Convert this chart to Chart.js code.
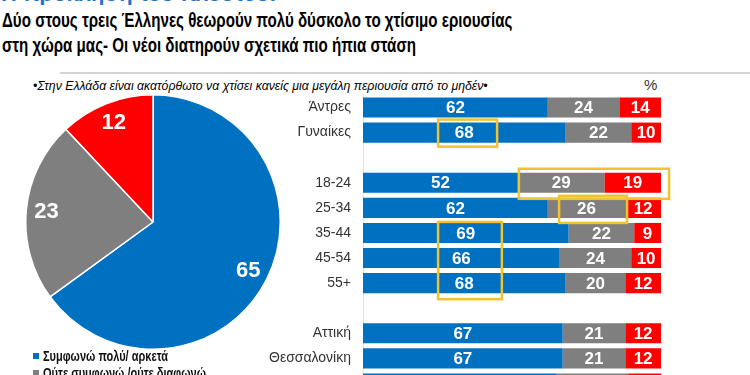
<!DOCTYPE html>
<html>
<head>
<meta charset="utf-8">
<script src="https://cdn.jsdelivr.net/npm/chart.js@4.4.1/dist/chart.umd.min.js"></script>
<style>
body { margin: 0; width: 750px; height: 375px; overflow: hidden; position: relative; background: #fff;
       font-family: "Liberation Sans", Arial, sans-serif; }
.fit { position: absolute; white-space: nowrap; transform-origin: 0 0; display: inline-block; }
#kicker { left: 1px; top: -18px; color: #1f74c4; font: bold 21px "Liberation Sans Narrow", "Liberation Sans", sans-serif; }
#title { left: 2px; top: 8px; color: #000; font: bold 20.5px/24.5px "Liberation Sans Narrow", "Liberation Sans", sans-serif; }
#rule { position: absolute; left: 60px; right: 0; top: 72px; height: 2px; background: #d4d4d4; }
#question { left: 33px; top: 79px; color: #000; font: italic 12.5px "Liberation Sans", sans-serif; }
#pct { position: absolute; left: 644px; top: 76px; color: #333; font: 15px "Liberation Sans", sans-serif; }
#pie { position: absolute; left: 25px; top: 94px; }
#bars { position: absolute; left: 250px; top: 95px; }
.leg { position: absolute; left: 33px; font: bold 14px "Liberation Sans Narrow", "Liberation Sans", sans-serif; color: #111; white-space: nowrap; }
.leg i { display: inline-block; width: 6px; height: 6px; margin-right: 4px; vertical-align: 2px; }
.leg span { display: inline-block; transform-origin: 0 50%; }
</style>
</head>
<body>
<div id="kicker" class="fit">Η πρόκληση του πλούτου!</div>
<div id="title" class="fit">Δύο στους τρεις Έλληνες θεωρούν πολύ δύσκολο το χτίσιμο εριουσίας<br>στη χώρα μας- Οι νέοι διατηρούν σχετικά πιο ήπια στάση</div>
<div id="rule"></div>
<div id="question" class="fit">•Στην Ελλάδα είναι ακατόρθωτο να χτίσει κανείς μια μεγάλη περιουσία από το μηδέν•</div>
<div id="pct">%</div>
<canvas id="pie" width="256" height="256"></canvas>
<canvas id="bars" width="500" height="301"></canvas>
<div id="legend"></div>
<script>
// απαντήσεις (πίτα)
const answerLabels = ['Συμφωνώ πολύ/ αρκετά', 'Ούτε συμφωνώ /ούτε διαφωνώ', 'Διαφωνώ πολύ/ αρκετά'];
const totalValues = [65, 23, 12];

// ανάλυση ανά φύλο / ηλικία / περιοχή
const rowLabels = ['Άντρες', 'Γυναίκες', '', '18-24', '25-34', '35-44', '45-54', '55+', '', 'Αττική', 'Θεσσαλονίκη', 'Υπόλοιπη Ελλάδα'];
const agreeValues    = [62, 68, null, 52, 62, 69, 66, 68, null, 67, 67, 65];
const neutralValues  = [24, 22, null, 29, 26, 22, 24, 20, null, 21, 21, 24];
const disagreeValues = [14, 10, null, 19, 12,  9, 10, 12, null, 12, 12, 11];

const colors = ['#0070c0', '#7f7f7f', '#ff0000'];

// κίτρινα πλαίσια (σε μονάδες % και θέσεις γραμμών)
const highlights = [
    { from: 25.2, to: 45.0, rowFrom: 0.48, rowTo: 1.56 },
    { from: 52.3, to: 102.7, rowFrom: 2.44, rowTo: 3.64 },
    { from: 65.8, to: 88.6, rowFrom: 3.52, rowTo: 4.60 },
    { from: 25.2, to: 46.6, rowFrom: 4.56, rowTo: 7.64 }
];

function fitWidth(id, target) {
    const el = document.getElementById(id);
    el.style.transform = 'scaleX(' + (target / el.offsetWidth) + ')';
}
fitWidth('kicker', 275);
fitWidth('title', 510);
fitWidth('question', 455);

// υπόμνημα
const legend = document.getElementById('legend');
answerLabels.forEach((txt, i) => {
    const d = document.createElement('div');
    d.className = 'leg';
    d.style.top = (348 + i * 17) + 'px';
    d.innerHTML = '<i style="background:' + colors[i] + '"></i><span>' + txt + '</span>';
    legend.appendChild(d);
});
const firstSpan = legend.querySelector('span');
const legScale = 125 / firstSpan.offsetWidth;
legend.querySelectorAll('span').forEach(s => s.style.transform = 'scaleX(' + legScale + ')');

const pieLabelPlugin = {
    id: 'pieLabels',
    afterDatasetsDraw(chart) {
        const ctx = chart.ctx;
        const meta = chart.getDatasetMeta(0);
        ctx.save();
        ctx.fillStyle = '#fff';
        ctx.font = 'bold 22px "Liberation Sans", sans-serif';
        ctx.textAlign = 'center';
        ctx.textBaseline = 'middle';
        meta.data.forEach((arc, i) => {
            const mid = (arc.startAngle + arc.endAngle) / 2;
            const r = arc.outerRadius * 0.84;
            ctx.fillText(chart.data.datasets[0].data[i], arc.x + Math.cos(mid) * r, arc.y + Math.sin(mid) * r);
        });
        ctx.restore();
    }
};

new Chart(document.getElementById('pie'), {
    type: 'pie',
    data: {
        labels: answerLabels,
        datasets: [{ data: totalValues, backgroundColor: colors, borderColor: '#fff', borderWidth: 1.5 }]
    },
    options: {
        responsive: false,
        animation: false,
        layout: { padding: 0 },
        plugins: { legend: { display: false }, tooltip: { enabled: false } }
    },
    plugins: [pieLabelPlugin]
});

const barLabelPlugin = {
    id: 'barLabels',
    afterDatasetsDraw(chart) {
        const ctx = chart.ctx;
        ctx.save();
        ctx.fillStyle = '#fff';
        ctx.font = 'bold 17px "Liberation Sans", sans-serif';
        ctx.textAlign = 'center';
        ctx.textBaseline = 'middle';
        chart.data.datasets.forEach((ds, d) => {
            chart.getDatasetMeta(d).data.forEach((bar, i) => {
                if (ds.data[i] == null) return;
                const p = bar.getCenterPoint();
                ctx.fillText(ds.data[i], p.x, p.y + 1);
            });
        });
        ctx.restore();
    }
};

const highlightPlugin = {
    id: 'highlights',
    afterDraw(chart) {
        const ctx = chart.ctx;
        const xs = chart.scales.x, ys = chart.scales.y;
        ctx.save();
        ctx.strokeStyle = '#f2c230';
        ctx.lineWidth = 2.5;
        highlights.forEach(h => {
            const x0 = xs.getPixelForValue(h.from), x1 = xs.getPixelForValue(h.to);
            const y0 = ys.getPixelForValue(h.rowFrom), y1 = ys.getPixelForValue(h.rowTo);
            ctx.strokeRect(x0, y0, x1 - x0, y1 - y0);
        });
        ctx.restore();
    }
};

new Chart(document.getElementById('bars'), {
    type: 'bar',
    data: {
        labels: rowLabels,
        datasets: [
            { label: answerLabels[0], data: agreeValues, backgroundColor: colors[0] },
            { label: answerLabels[1], data: neutralValues, backgroundColor: colors[1] },
            { label: answerLabels[2], data: disagreeValues, backgroundColor: colors[2] }
        ]
    },
    options: {
        indexAxis: 'y',
        responsive: false,
        animation: false,
        layout: { padding: { left: 0, right: 89, top: 0, bottom: 0 } },
        datasets: { bar: { barPercentage: 0.8, categoryPercentage: 1, borderWidth: 0 } },
        scales: {
            x: { stacked: true, min: 0, max: 100, display: false },
            y: {
                stacked: true,
                grid: { display: false, drawTicks: false },
                border: { display: true, color: '#e2e2e2', width: 1 },
                ticks: { color: '#333', padding: 12, font: { size: 14, family: '"Liberation Sans", sans-serif' } },
                afterFit(scale) {
                    scale.width = 113;
                    scale.paddingTop = 0;
                    scale.paddingBottom = 0;
                }
            }
        },
        plugins: { legend: { display: false }, tooltip: { enabled: false } }
    },
    plugins: [barLabelPlugin, highlightPlugin]
});
</script>
</body>
</html>
